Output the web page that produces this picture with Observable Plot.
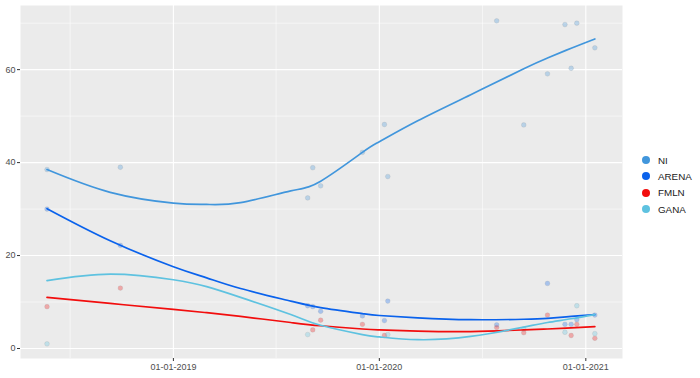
<!DOCTYPE html>
<html>
<head>
<meta charset="utf-8">
<script src="https://cdn.jsdelivr.net/npm/d3@7"></script>
<script src="https://cdn.jsdelivr.net/npm/@observablehq/plot@0.6"></script>
<style>
  body { margin: 0; background: #fff; font-family: "Liberation Sans", Arial, sans-serif; }
  #wrap { position: relative; width: 700px; height: 378px; }
  #legend { position: absolute; left: 640px; top: 152px; font-size: 9.8px; color: #1a1a1a; }
  .item { display: flex; align-items: center; height: 16.3px; }
  .dot { width: 8px; height: 8px; border-radius: 50%; margin-right: 8px; margin-left: 2px; }
</style>
</head>
<body>
<div id="wrap"><div id="chart"></div><div id="legend"></div></div>
<script>
// Poll dates (points)
const pointDates = ["2018-05-22","2018-09-29","2019-08-27","2019-09-05","2019-09-19","2019-12-02","2020-01-10","2020-01-16","2020-07-27","2020-09-13","2020-10-25","2020-11-25","2020-12-06","2020-12-16","2021-01-17"];
const niPoints    = [38.5, 39.0, 32.4, 38.9, 35.0, 42.2, 48.2, 37.0, 70.5, 48.1, 59.1, 69.7, 60.3, 70.0, 64.7];
const arenaPoints = [30.0, 22.2, 9.2, 9.0, 8.0, 7.0, 6.0, 10.2, 5.1, null, 14.0, 5.2, 5.2, 6.2, 7.2];
const fmlnPoints  = [9.0, 13.0, null, 4.0, 6.1, 5.2, 2.8, null, 4.5, 3.4, 7.2, null, 2.8, 5.2, 2.2];
const ganaPoints  = [1.0, null, 3.0, null, null, null, null, 3.0, null, 4.2, null, 3.5, null, 9.2, 3.2];

// Smoothed trend
const trendDates = ["2018-05-22","2018-09-11","2019-01-01","2019-03-01","2019-04-30","2019-07-28","2019-09-19","2019-12-02","2020-01-01","2020-03-09","2020-06-11","2020-09-13","2020-10-25","2020-12-06","2021-01-17"];
const niTrend    = [38.5, 33.6, 31.3, 31.0, 31.4, 33.9, 36.0, 42.2, 44.5, 49.0, 54.6, 60.2, 62.5, 64.6, 66.6];
const arenaTrend = [30.1, 23.2, 17.6, 15.2, 12.9, 10.2, 8.8, 7.5, 7.1, 6.6, 6.2, 6.3, 6.5, 6.9, 7.3];
const fmlnTrend  = [11.0, 9.7, 8.4, 7.7, 6.9, 5.6, 4.9, 4.2, 4.0, 3.75, 3.65, 4.0, 4.2, 4.45, 4.7];
const ganaTrend  = [14.6, 16.0, 14.8, 13.3, 11.0, 7.3, 5.0, 3.0, 2.5, 1.9, 2.6, 4.6, 5.6, 6.4, 7.3];

const parties = ["NI", "ARENA", "FMLN", "GANA"];
const colors = ["#4196dc", "#0a62ec", "#f20d0d", "#5ec2e0"];
const xTicks = ["2019-01-01", "2020-01-01", "2021-01-01"];
const yTicks = [0, 20, 40, 60];
const yMinor = [10, 30, 50, 70];
const xMinor = ["2018-07-02", "2019-07-02", "2020-07-02"];

const parse = d3.utcParse("%Y-%m-%d");
const pointSets = [niPoints, arenaPoints, fmlnPoints, ganaPoints];
const trendSets = [niTrend, arenaTrend, fmlnTrend, ganaTrend];
const points = [];
parties.forEach((p, i) => pointSets[i].forEach((v, j) => { if (v != null) points.push({party: p, date: parse(pointDates[j]), value: v}); }));
const trends = [];
parties.forEach((p, i) => trendSets[i].forEach((v, j) => trends.push({party: p, date: parse(trendDates[j]), value: v})));

const chart = Plot.plot({
  width: 630, height: 378,
  marginLeft: 20, marginRight: 8, marginTop: 5, marginBottom: 20,
  style: { fontFamily: "Liberation Sans, Arial, sans-serif", fontSize: "9px", color: "#4d4d4d", background: "transparent" },
  x: { type: "utc", domain: [parse("2018-04-05"), parse("2021-03-07")], label: null },
  y: { domain: [-2.15, 73.8], label: null },
  color: { domain: parties, range: colors },
  marks: [
    Plot.frame({ fill: "#ebebeb", stroke: null }),
    Plot.ruleY(yMinor, { stroke: "#fff", strokeWidth: 0.55 }),
    Plot.ruleX(xMinor.map(parse), { stroke: "#fff", strokeWidth: 0.55 }),
    Plot.ruleY(yTicks, { stroke: "#fff", strokeWidth: 1.1 }),
    Plot.ruleX(xTicks.map(parse), { stroke: "#fff", strokeWidth: 1.1 }),
    Plot.dot(points, { x: "date", y: "value", fill: "party", r: 2.4, fillOpacity: 0.3, stroke: "#888", strokeOpacity: 0.25, strokeWidth: 0.6 }),
    Plot.line(trends, { x: "date", y: "value", z: "party", stroke: "party", strokeWidth: 1.7, curve: "natural" }),
    Plot.axisX({ ticks: xTicks.map(parse), tickFormat: d3.utcFormat("%d-%m-%Y"), tickSize: 3, tickPadding: 2, stroke: "#333" }),
    Plot.axisY({ ticks: yTicks, tickSize: 3, tickPadding: 2, stroke: "#333" })
  ]
});
document.getElementById("chart").appendChild(chart);

const legend = document.getElementById("legend");
parties.forEach((p, i) => {
  const row = document.createElement("div");
  row.className = "item";
  row.innerHTML = `<span class="dot" style="background:${colors[i]}"></span><span>${p}</span>`;
  legend.appendChild(row);
});
</script>
</body>
</html>
